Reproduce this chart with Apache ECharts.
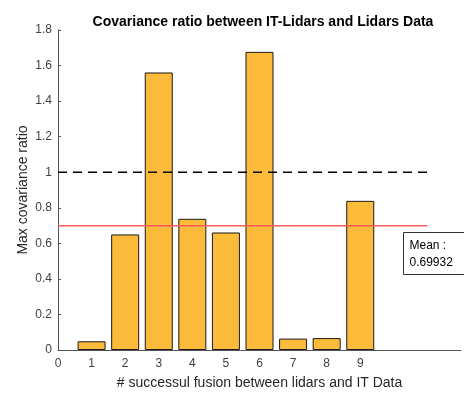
<!DOCTYPE html>
<html><head><meta charset="utf-8">
<script src="https://cdn.jsdelivr.net/npm/echarts@6/dist/echarts.min.js"></script>
<style>html,body{margin:0;padding:0;background:#fff}#c{width:464px;height:395px}</style>
</head><body><div id="c"></div>
<script>
var categories = [1, 2, 3, 4, 5, 6, 7, 8, 9];
var ratios = [0.049, 0.650, 1.561, 0.738, 0.661, 1.677, 0.064, 0.067, 0.839];
var meanValue = 0.69932;
var thresholdValue = 1;
var refLineX = [0, 11];
var xTickLabels = ['0','1','2','3','4','5','6','7','8','9'];

var chart = echarts.init(document.getElementById('c'));
var font = 'Liberation Sans, Arial, Helvetica, sans-serif';
chart.setOption({
  animation: false,
  title: {
    text: 'Covariance ratio between IT-Lidars and Lidars Data',
    left: 258, top: 10, textAlign: 'center',
    textStyle: {fontFamily: font, fontSize: 14, fontWeight: 'bold', color: '#000'}
  },
  grid: {left: 58, right: 1, top: 30, bottom: 44},
  xAxis: {
    type: 'value', min: 0, max: 12, interval: 1,
    name: '# successul fusion between lidars and IT Data',
    nameLocation: 'middle', nameGap: 26,
    nameTextStyle: {fontFamily: font, fontSize: 14, color: '#262626'},
    axisLine: {lineStyle: {color: '#555', width: 1}},
    axisTick: {show: false},
    splitLine: {show: false},
    axisLabel: {
      margin: 8, fontFamily: font, fontSize: 12, color: '#404040',
      formatter: function (v) { return v < xTickLabels.length ? xTickLabels[v] : ''; }
    }
  },
  yAxis: {
    type: 'value', min: 0, max: 1.8, interval: 0.2,
    name: 'Max covariance ratio',
    nameLocation: 'middle', nameGap: 28, nameRotate: 90, nameMoveOverlap: false,
    nameTextStyle: {fontFamily: font, fontSize: 14, color: '#262626'},
    axisLine: {show: true, lineStyle: {color: '#555', width: 1}},
    axisTick: {show: true, inside: true, length: 3, lineStyle: {color: '#555'}},
    splitLine: {show: false},
    axisLabel: {margin: 6, fontFamily: font, fontSize: 12, color: '#404040'}
  },
  series: [
    {
      type: 'bar',
      data: categories.map(function (c, i) { return [c, ratios[i]]; }),
      barWidth: 28,
      itemStyle: {color: '#FDBB3B', borderColor: '#1a1a1a', borderWidth: 1}
    },
    {
      type: 'line', symbol: 'none', silent: true,
      data: refLineX.map(function (x) { return [x, thresholdValue]; }),
      lineStyle: {color: '#000', width: 1.6, type: [9, 6]}
    },
    {
      type: 'line', symbol: 'none', silent: true,
      data: refLineX.map(function (x) { return [x, meanValue]; }),
      lineStyle: {color: '#ff5c5c', width: 1.5}
    }
  ],
  graphic: [{
    type: 'group', left: 403, top: 232,
    children: [
      {type: 'rect', shape: {x: 0, y: 0, width: 70, height: 42},
       style: {fill: '#fff', stroke: '#333', lineWidth: 1}},
      {type: 'text', x: 6, y: 5,
       style: {text: 'Mean :\n' + meanValue, fontFamily: font, fontSize: 12, fill: '#000', lineHeight: 17}}
    ]
  }]
});
</script></body></html>
